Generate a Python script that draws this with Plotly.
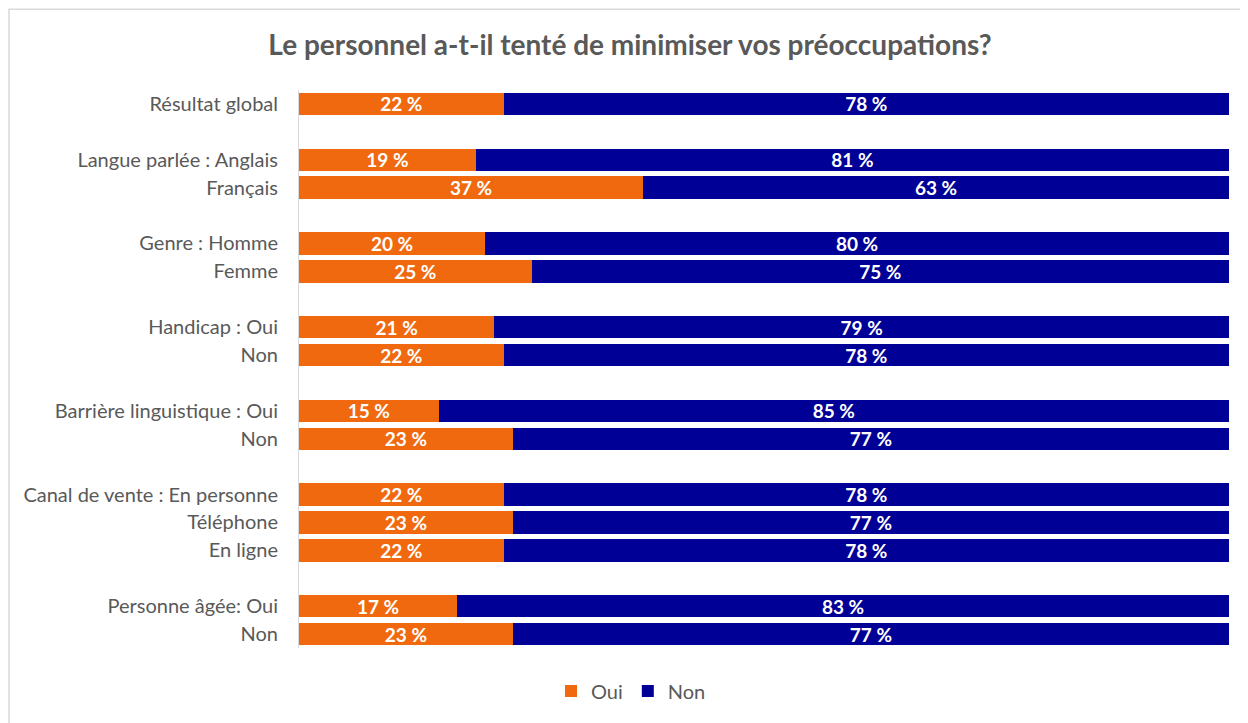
import plotly.graph_objects as go

# rows top to bottom, None = blank spacer row
categories = [
    "Résultat global", None,
    "Langue parlée : Anglais", "Français", None,
    "Genre : Homme", "Femme", None,
    "Handicap : Oui", "Non", None,
    "Barrière linguistique : Oui", "Non", None,
    "Canal de vente : En personne", "Téléphone", "En ligne", None,
    "Personne âgée: Oui", "Non",
]
oui = [22, None, 19, 37, None, 20, 25, None, 21, 22, None, 15, 23, None, 22, 23, 22, None, 17, 23]
non = [78, None, 81, 63, None, 80, 75, None, 79, 78, None, 85, 77, None, 78, 77, 78, None, 83, 77]

rows = list(range(len(categories)))
labelled = [i for i, c in enumerate(categories) if c is not None]

ORANGE = "#F0690F"
NAVY = "#000096"
FONT = "Lato, Open Sans, sans-serif"

fig = go.Figure()
for name, vals, color in [("Oui", oui, ORANGE), ("Non", non, NAVY)]:
    fig.add_trace(go.Bar(
        y=rows, x=vals, name=name, orientation="h",
        marker=dict(color=color, line_width=0),
        width=0.8,
        text=[f"{v} %" if v is not None else "" for v in vals],
        textposition="inside", insidetextanchor="middle",
        constraintext="none",
        textfont=dict(family=FONT, size=19, color="white", weight="bold"),
    ))

# page body has an 8px margin, so the figure is sized/margined to compensate
fig.update_layout(
    barmode="stack",
    width=1240, height=715,
    paper_bgcolor="white", plot_bgcolor="white",
    margin=dict(l=291, r=19, t=82, b=73),
    title=dict(text="<b>Le personnel a-t-il tenté de minimiser vos préoccupations?</b>",
               xref="container", x=622 / 1240, xanchor="center",
               yref="container", y=1 - 37 / 715, yanchor="middle",
               font=dict(family=FONT, size=28, color="#595959")),
    legend=dict(orientation="h", x=0.357, xanchor="center", y=-0.077, yanchor="middle",
                font=dict(family=FONT, size=20, color="#595959"),
                itemwidth=30, traceorder="normal"),
    showlegend=True,
    shapes=[dict(type="rect", xref="paper", yref="paper",
                 x0=-290 / 930, x1=1.2,
                 y0=-0.3, y1=641 / 560,
                 line=dict(color="#d9d9d9", width=1.5), fillcolor="rgba(0,0,0,0)",
                 layer="below")],
)
fig.update_xaxes(range=[0, 100], showgrid=False, showticklabels=False, zeroline=False,
                 fixedrange=True)
fig.update_yaxes(range=[len(categories) - 0.5, -0.5], tickvals=labelled,
                 ticktext=[categories[i] for i in labelled],
                 showgrid=False, zeroline=False, showline=True, linecolor="#d9d9d9",
                 linewidth=1, ticks="", ticklabelstandoff=16,
                 tickfont=dict(family=FONT, size=20, color="#595959"),
                 fixedrange=True)

fig.write_html("out.html")
